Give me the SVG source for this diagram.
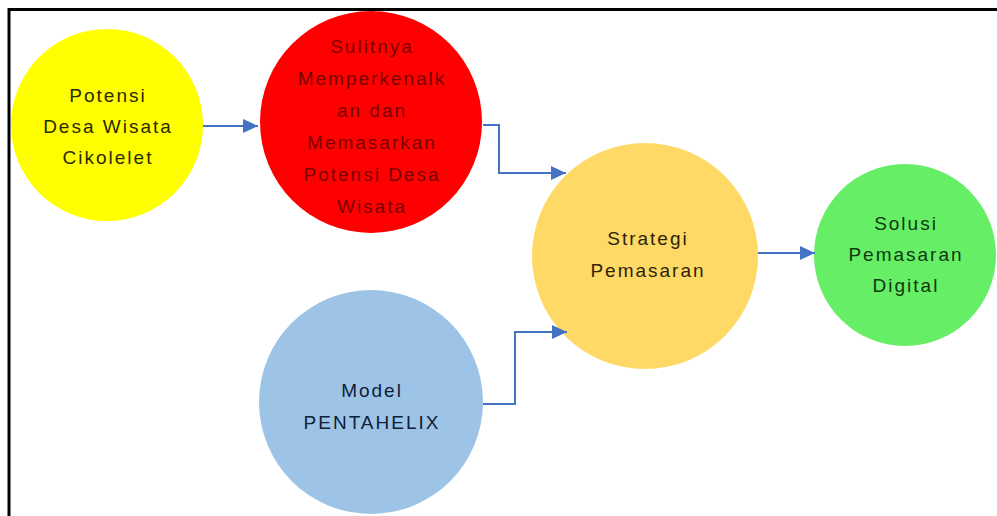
<svg xmlns="http://www.w3.org/2000/svg" width="997" height="516" viewBox="0 0 997 516">
<style>
text{font-family:"Liberation Sans",Arial,sans-serif;font-size:19px;letter-spacing:2px;text-anchor:middle}
.conn{fill:none;stroke:#4472C4;stroke-width:2;marker-end:url(#ah)}
</style>
<defs>
<marker id="ah" markerUnits="userSpaceOnUse" markerWidth="16" markerHeight="14" refX="15" refY="7" orient="auto">
<path d="M0,0 L15,7 L0,14 Z" fill="#4472C4"/>
</marker>
</defs>
<rect width="997" height="516" fill="#ffffff"/>
<path d="M9,516 V9.5 H997" fill="none" stroke="#000" stroke-width="3"/>
<g id="node-potensi">
<circle cx="107" cy="125" r="96" fill="#FFFF00"/>
<text fill="#2b2b00"><tspan x="108" y="102">Potensi</tspan><tspan x="108" y="133">Desa Wisata</tspan><tspan x="108" y="164">Cikolelet</tspan></text>
</g>
<g id="node-sulitnya">
<circle cx="371" cy="122" r="111" fill="#FF0000"/>
<text fill="#7a0000"><tspan x="372" y="53">Sulitnya</tspan><tspan x="372" y="85">Memperkenalk</tspan><tspan x="372" y="117">an dan</tspan><tspan x="372" y="149">Memasarkan</tspan><tspan x="372" y="181">Potensi Desa</tspan><tspan x="372" y="213">Wisata</tspan></text>
</g>
<g id="node-strategi">
<circle cx="645" cy="256" r="113" fill="#FFD966"/>
<text fill="#2e2508"><tspan x="648" y="245">Strategi</tspan><tspan x="648" y="277">Pemasaran</tspan></text>
</g>
<g id="node-pentahelix">
<circle cx="371" cy="402" r="112" fill="#9DC3E6"/>
<text fill="#0f1e3a"><tspan x="372" y="397">Model</tspan><tspan x="372" y="429">PENTAHELIX</tspan></text>
</g>
<g id="node-solusi">
<circle cx="905" cy="255" r="91" fill="#66EE66"/>
<text fill="#0d3a0d"><tspan x="906" y="230">Solusi</tspan><tspan x="906" y="261">Pemasaran</tspan><tspan x="906" y="292">Digital</tspan></text>
</g>
<g id="connectors">
<path class="conn" d="M203,126 H258"/>
<path class="conn" d="M483,125 H499 V173 H566"/>
<path class="conn" d="M483,404 H515 V332 H567"/>
<path class="conn" d="M758,253 H815"/>
</g>
</svg>
